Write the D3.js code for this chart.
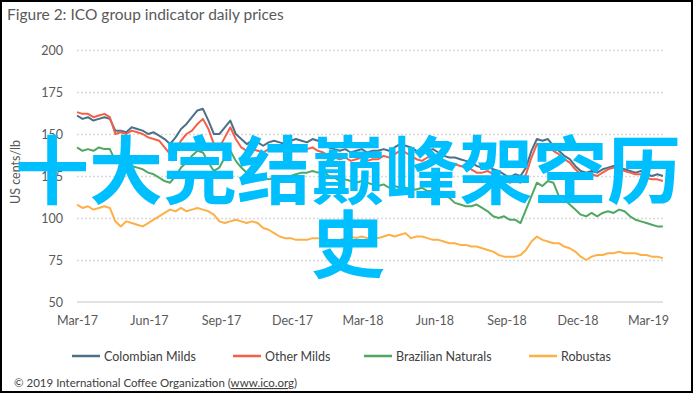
<!DOCTYPE html>
<html lang="en">

<head>
	<meta charset="UTF-8">
	<script src="https://cdn.jsdelivr.net/npm/d3@7"></script>
	<title>ICO group indicator daily prices</title>
	<style>
		body {
			margin: 0;
			background: #fff;
			font-family: Lato, "Noto Sans", sans-serif;
		}

		.grid line {
			stroke: #d9d9d9;
			stroke-width: 1.5;
			stroke-dasharray: 2 2;
		}

		.series {
			fill: none;
			stroke-width: 2;
			stroke-linejoin: round;
		}
	</style>
</head>

<body>
	<svg id="chart" width="695" height="394"></svg>
	<script>
		// weekly readings (US cents/lb), starting 1 Mar 2017
		const colombianMilds = [
			161, 159, 160, 158, 159, 160, 159, 152, 152, 151, 154, 153,
			152, 150, 151, 149, 147, 144, 148, 153, 156, 160, 164, 165, 158, 150, 150, 154, 158, 150, 147, 144, 146, 145, 143, 145, 146, 145, 144, 146, 147, 146,
			145, 147, 146, 144, 142, 141, 140, 141, 139, 140, 141, 139, 140, 140, 141, 140, 142, 144, 143, 142, 140, 138, 140, 141, 139, 137, 136, 136, 135, 134,
			133, 131, 130, 131, 129, 128, 126, 124, 126, 125, 130, 140, 147, 146, 147, 143, 140, 137, 135, 131, 128, 127, 128, 127, 129, 130, 131, 130, 129, 128,
			127, 128, 126, 125, 126, 125
		];
		const otherMilds = [
			163, 162, 162, 160, 161, 162, 160, 150, 151, 150, 152, 151,
			150, 148, 147, 146, 142, 138, 141, 146, 150, 152, 156, 159, 153, 144, 142, 148, 154, 147, 142, 140, 141, 140, 139, 141, 142, 141, 140, 141, 142, 141,
			141, 142, 140, 139, 137, 136, 135, 136, 134, 135, 136, 134, 135, 135, 137, 136, 138, 140, 139, 137, 135, 134, 136, 137, 135, 133, 132, 132, 131, 130,
			129, 127, 127, 128, 126, 125, 123, 121, 122, 121, 126, 136, 144, 143, 144, 140, 138, 135, 133, 129, 126, 125, 126, 125, 127, 129, 130, 129, 128, 127,
			126, 126, 124, 123, 123, 122
		];
		const brazilianNaturals = [
			142, 140, 141, 140, 142, 141, 141, 134, 132, 130, 131, 130,
			129, 127, 126, 124, 122, 121, 125, 130, 133, 137, 140, 139, 133, 128, 130, 136, 140, 134, 130, 127, 126, 125, 124, 123, 124, 123, 124, 125, 126, 127,
			127, 128, 127, 128, 125, 124, 122, 123, 122, 121, 122, 121, 120, 119, 120, 118, 119, 118, 118, 117, 117, 118, 116, 116, 115, 114, 112, 109, 108, 107,
			107, 108, 106, 104, 101, 100, 101, 99, 99, 97, 105, 113, 121, 119, 122, 121, 113, 111, 108, 105, 102, 101, 103, 101, 103, 104, 103, 105, 104, 101,
			99, 98, 97, 96, 95, 95
		];
		const robustas = [
			108, 106, 107, 105, 106, 107, 106, 98, 95, 98, 97, 96,
			95, 97, 99, 101, 103, 105, 104, 106, 104, 105, 106, 105, 104, 102, 98, 97, 98, 99, 98, 97, 98, 97, 94, 93, 91, 89, 88, 88, 87, 87,
			87, 88, 88, 87, 86, 86, 87, 88, 89, 88, 89, 88, 89, 88, 89, 90, 89, 90, 91, 88, 89, 89, 88, 87, 87, 86, 85, 85, 84, 84,
			83, 83, 82, 81, 80, 78, 77, 77, 77, 78, 81, 86, 89, 87, 86, 85, 85, 83, 82, 80, 77, 75, 77, 78, 78, 79, 79, 80, 79, 79,
			79, 78, 78, 77, 77, 76
		];

		const seriesNames = ["Colombian Milds", "Other Milds", "Brazilian Naturals", "Robustas"];
		const seriesColors = ["#4a7189", "#f55f48", "#4fa862", "#fdb045"];
		const yTicks = [50, 75, 100, 125, 150, 175, 200];
		const xTickLabels = ["Mar-17", "Jun-17", "Sep-17", "Dec-17", "Mar-18", "Jun-18", "Sep-18", "Dec-18", "Mar-19"];

		const startDate = new Date(2017, 2, 1);
		const dates = colombianMilds.map((d, i) => d3.timeDay.offset(startDate, 7 * i));
		const allSeries = [colombianMilds, otherMilds, brazilianNaturals, robustas];

		const svg = d3.select('#chart');
		const parseTick = d3.timeParse('%b-%y');

		const x = d3.scaleTime()
			.domain([parseTick('Mar-17'), parseTick('Mar-19')])
			.range([77, 648]);
		const y = d3.scaleLinear()
			.domain([50, 200])
			.range([302, 50]);
		const plotLeft = 77, plotRight = 663;

		// frame
		svg.append('rect')
			.attr('x', 1).attr('y', 1)
			.attr('width', 691).attr('height', 391)
			.attr('fill', '#fff')
			.attr('stroke', '#000')
			.attr('stroke-width', 2);

		// title
		svg.append('text')
			.attr('x', 7).attr('y', 20)
			.attr('fill', '#595959')
			.style('font-size', '15.5px')
			.text('Figure 2: ICO group indicator daily prices');

		// y axis + dotted grid
		const yAxis = svg.append('g')
			.attr('class', 'grid')
			.attr('transform', `translate(${plotLeft},0)`)
			.call(d3.axisLeft(y).tickValues(yTicks).tickSize(-(plotRight - plotLeft)).tickPadding(14));
		yAxis.select('.domain').remove();
		yAxis.selectAll('.tick').filter(d => d === 50).select('line').remove();
		yAxis.selectAll('text')
			.attr('fill', '#595959')
			.style('font-size', '12.5px')
			.style('font-family', 'Lato, sans-serif');

		// baseline
		svg.append('line')
			.attr('x1', plotLeft).attr('x2', plotRight)
			.attr('y1', y(50)).attr('y2', y(50))
			.attr('stroke', '#d9d9d9')
			.attr('stroke-width', 1.5);

		// x axis labels
		const xAxis = svg.append('g')
			.attr('transform', `translate(0,${y(50)})`)
			.call(d3.axisBottom(x).tickValues(xTickLabels.map(parseTick)).tickFormat(d3.timeFormat('%b-%y')).tickSize(0).tickPadding(14));
		xAxis.select('.domain').remove();
		xAxis.selectAll('text')
			.attr('fill', '#595959')
			.style('font-size', '12.5px')
			.style('font-family', 'Lato, sans-serif');

		// y axis title
		svg.append('text')
			.attr('transform', 'translate(20,172) rotate(-90)')
			.attr('text-anchor', 'middle')
			.attr('fill', '#595959')
			.style('font-size', '12.5px')
			.text('US cents/lb');

		// lines
		const line = d3.line()
			.x((d, i) => x(dates[i]))
			.y(d => y(d));
		svg.selectAll('.series')
			.data(allSeries)
			.enter()
			.append('path')
			.attr('class', 'series')
			.attr('stroke', (d, i) => seriesColors[i])
			.attr('d', line);

		// legend
		const legendX = [72, 233, 364, 529];
		const legend = svg.selectAll('.legend')
			.data(seriesNames)
			.enter()
			.append('g')
			.attr('class', 'legend')
			.attr('transform', (d, i) => `translate(${legendX[i]},356)`);
		legend.append('line')
			.attr('x1', 0).attr('x2', 28)
			.attr('stroke', (d, i) => seriesColors[i])
			.attr('stroke-width', 2.5);
		legend.append('text')
			.attr('x', 32).attr('y', 4.5)
			.attr('fill', '#404040')
			.style('font-size', '12.5px')
			.text(d => d);

		// footer
		const footer = svg.append('text')
			.attr('x', 14).attr('y', 387)
			.attr('fill', '#404040')
			.style('font-size', '11.5px')
			.text('© 2019 International Coffee Organization (');
		footer.append('tspan')
			.style('text-decoration', 'underline')
			.text('www.ico.org');
		footer.append('tspan').text(')');

		// overlay caption
		const caption = svg.append('text')
			.attr('text-anchor', 'middle')
			.attr('fill', '#00bfff')
			.style('font-family', '"Noto Sans CJK SC", sans-serif')
			.style('font-weight', 700)
			.style('font-size', '74px');
		caption.append('tspan').attr('x', 348).attr('y', 198).text('十大完结巅峰架空历');
		caption.append('tspan').attr('x', 348).attr('y', 272).text('史');
	</script>
</body>

</html>
